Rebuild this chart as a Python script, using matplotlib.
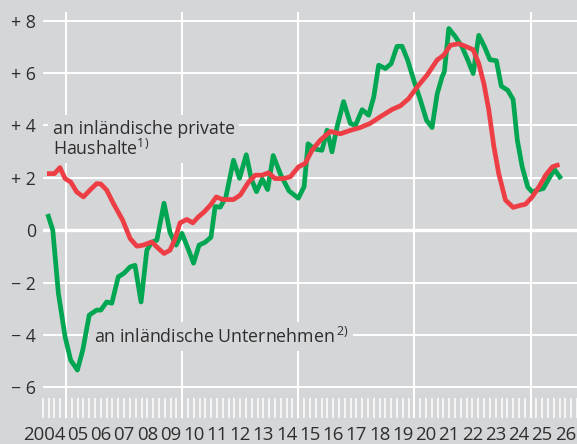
import numpy as np
import matplotlib
matplotlib.use("Agg")
import matplotlib.pyplot as plt

# decimal years
green_x = [2004.24, 2004.43, 2004.67, 2004.96, 2005.2, 2005.49, 2005.72, 2006.0, 2006.32, 2006.5,
           2006.75, 2006.97, 2007.25, 2007.5, 2007.76, 2007.97, 2008.23, 2008.48, 2008.69, 2008.91,
           2009.22, 2009.48, 2009.74, 2009.99, 2010.23, 2010.49, 2010.73, 2010.99, 2011.24, 2011.42,
           2011.64, 2011.88, 2012.21, 2012.47, 2012.76, 2012.98, 2013.2, 2013.45, 2013.68, 2013.92,
           2014.25, 2014.6, 2015.0, 2015.25, 2015.42, 2015.7, 2016.02, 2016.24, 2016.45, 2016.67,
           2016.95, 2017.24, 2017.46, 2017.75, 2018.03, 2018.25, 2018.46, 2018.75, 2019.0, 2019.25,
           2019.47, 2019.71, 2019.97, 2020.26, 2020.52, 2020.76, 2020.98, 2021.19, 2021.29, 2021.48,
           2021.76, 2022.05, 2022.3, 2022.53, 2022.77, 2023.02, 2023.25, 2023.53, 2023.74, 2024.02,
           2024.25, 2024.43, 2024.64, 2024.88, 2025.07, 2025.29, 2025.55, 2025.79, 2026.03, 2026.26]
green_y = [0.53, 0.0, -2.4, -4.07, -4.96, -5.34, -4.58, -3.24, -3.05, -3.05,
           -2.74, -2.79, -1.78, -1.64, -1.4, -1.34, -2.74, -0.76, -0.46, -0.38,
           1.03, -0.1, -0.57, -0.12, -0.65, -1.26, -0.57, -0.46, -0.27, 0.9,
           0.88, 1.26, 2.67, 1.98, 2.88, 1.95, 1.47, 1.95, 1.55, 2.85,
           2.1, 1.5, 1.22, 1.66, 3.3, 3.1, 3.05, 3.82, 2.99, 3.95,
           4.91, 4.08, 4.0, 4.6, 4.39, 5.09, 6.3, 6.17, 6.36, 7.02,
           7.02, 6.49, 5.73, 4.96, 4.2, 3.92, 5.2, 5.85, 6.05, 7.7,
           7.39, 7.0, 6.49, 5.98, 7.44, 7.0, 6.51, 6.47, 5.5, 5.34,
           4.99, 3.44, 2.42, 1.65, 1.46, 1.53, 1.59, 1.97, 2.32, 2.03]

red_x = [2004.28, 2004.5, 2004.74, 2004.96, 2005.2, 2005.46, 2005.75, 2006.03, 2006.32, 2006.5,
         2006.75, 2007.04, 2007.44, 2007.76, 2008.05, 2008.33, 2008.69, 2008.98, 2009.22, 2009.48,
         2009.7, 2009.91, 2010.2, 2010.46, 2010.7, 2010.95, 2011.21, 2011.47, 2011.75, 2012.21,
         2012.5, 2012.86, 2013.15, 2013.44, 2013.72, 2014.0, 2014.37, 2014.66, 2015.01, 2015.3,
         2015.59, 2015.95, 2016.38, 2016.81, 2017.24, 2017.67, 2018.1, 2018.53, 2019.04, 2019.4,
         2019.75, 2020.12, 2020.55, 2020.98, 2021.26, 2021.55, 2021.91, 2022.2, 2022.53, 2022.77,
         2022.99, 2023.2, 2023.42, 2023.63, 2023.92, 2024.25, 2024.57, 2024.78, 2025.07, 2025.36,
         2025.65, 2025.94, 2026.15]
red_y = [2.16, 2.16, 2.39, 1.97, 1.84, 1.46, 1.27, 1.53, 1.78, 1.76,
         1.53, 1.02, 0.38, -0.32, -0.61, -0.57, -0.45, -0.7, -0.89, -0.76,
         -0.32, 0.28, 0.41, 0.28, 0.51, 0.7, 0.95, 1.27, 1.17, 1.17,
         1.34, 1.84, 2.1, 2.1, 2.19, 1.97, 1.97, 2.04, 2.42, 2.55,
         3.05, 3.44, 3.77, 3.68, 3.81, 3.92, 4.08, 4.33, 4.61, 4.75,
         5.02, 5.47, 5.93, 6.5, 6.68, 7.06, 7.12, 7.02, 6.89, 6.36,
         5.6, 4.6, 3.2, 2.16, 1.15, 0.87, 0.95, 0.99, 1.27, 1.65,
         2.1, 2.42, 2.48]

y_ticks = [-6, -4, -2, 0, 2, 4, 6, 8]
y_labels = ["\u2212 6", "\u2212 4", "\u2212 2", "0", "+ 2", "+ 4", "+ 6", "+ 8"]
years = list(range(2004, 2027))
year_labels = ["2004"] + [f"{y % 100:02d}" for y in years[1:]]

bg = "#d5d6d8"
green = "#00a651"
red = "#ee3e45"
txt = "#2e2e2e"

plt.rcParams["font.family"] = ["Open Sans", "DejaVu Sans"]
plt.rcParams["mathtext.fontset"] = "custom"
plt.rcParams["mathtext.rm"] = "Open Sans"
plt.rcParams["mathtext.it"] = "Open Sans:italic"
plt.rcParams["mathtext.bf"] = "Open Sans:bold"

fig = plt.figure(figsize=(5.77, 4.44), dpi=100, facecolor=bg)
ax = fig.add_axes([42.8 / 577, 26 / 444, (577 - 42.8) / 577, 406 / 444])
ax.set_facecolor(bg)
for s in ax.spines.values():
    s.set_visible(False)

ax.set_xlim(2004, 2027)
ax.set_ylim(-7.17, 8.33)

# grid
for v in y_ticks:
    ax.axhline(v, color="white", lw=2.4 if v == 0 else 1.45, zorder=1)
for yr in range(2005, 2026, 5):
    ax.axvline(yr, color="white", lw=1.45, zorder=1)

# quarterly tick bars
ax.set_xticks([])
ax.set_xticks(np.arange(2004, 2027.01, 0.25), minor=True)
ax.tick_params(axis="x", which="minor", direction="in", length=14.4, width=1.1,
               color="white", labelbottom=False)

ax.set_yticks(y_ticks, labels=y_labels)
ax.tick_params(axis="y", length=0, pad=5.0, labelsize=12.8, labelcolor=txt)

for i, lbl in enumerate(year_labels):
    if i == 0:
        ax.text(years[i] + 0.99, -0.053, lbl, ha="right", va="baseline", fontsize=13.4,
                color=txt, transform=ax.get_xaxis_transform())
    else:
        ax.text(years[i] + 0.5, -0.053, lbl, ha="center", va="baseline", fontsize=13.4,
                color=txt, transform=ax.get_xaxis_transform())

ax.plot(green_x, green_y, color=green, lw=3.4, solid_joinstyle="round", zorder=5)
ax.plot(red_x, red_y, color=red, lw=3.4, solid_joinstyle="round", zorder=6)

box = dict(boxstyle="square,pad=0.25", fc=bg, ec="none")
ax.text(2004.43, 4.22, "an inländische private\nHaushalte$^{\\mathrm{1)}}$", ha="left", va="top",
        fontsize=12.8, color=txt, bbox=box, zorder=3, linespacing=1.08)
ax.text(2006.19, -4.30, "an inländische Unternehmen$\\,^{\\mathrm{2)}}$", ha="left", va="baseline",
        fontsize=12.8, color=txt, bbox=box, zorder=3)

fig.savefig("out.png", dpi=100, facecolor=bg)
